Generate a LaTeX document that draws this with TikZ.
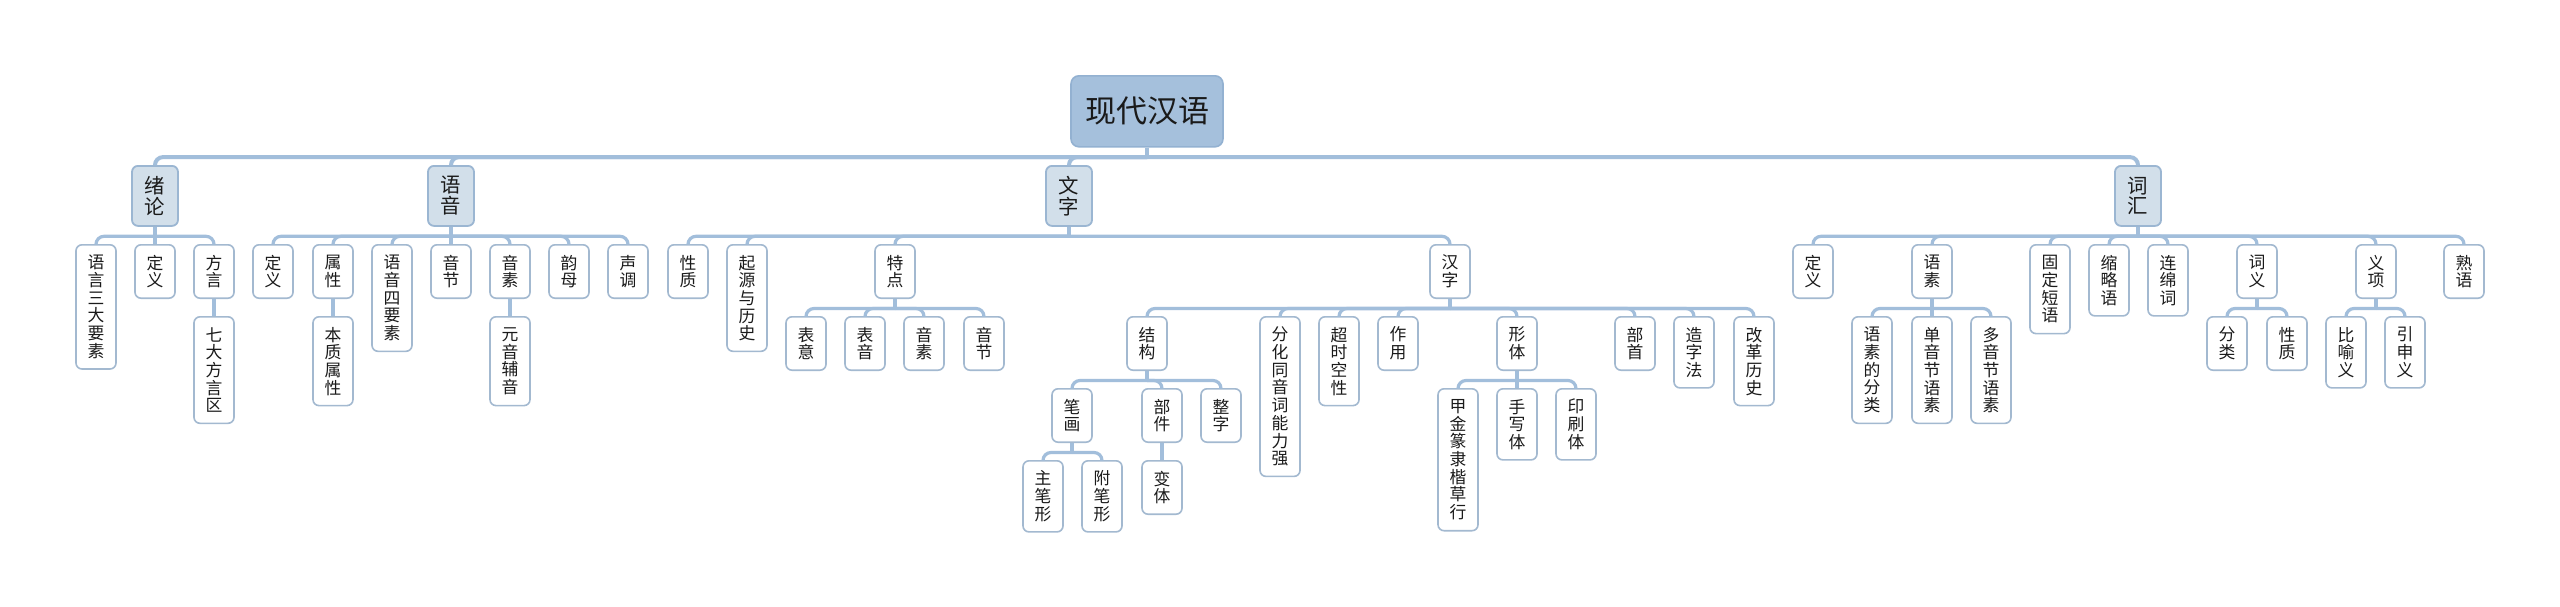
\documentclass[tikz,border=0pt]{standalone}
\usepackage{fontspec}
\setmainfont{Noto Sans CJK SC}

\definecolor{rootfill}{HTML}{A5C0DC}
\definecolor{rootline}{HTML}{93B1D1}
\definecolor{topicfill}{HTML}{D2DFEA}
\definecolor{topicline}{HTML}{9BB6D2}
\definecolor{leafline}{HTML}{A3B9D0}
\definecolor{linkcol}{HTML}{A2BEDB}
\definecolor{ink}{HTML}{1A1A1A}

\tikzset{
  rootbox/.style={draw=rootline, fill=rootfill, line width=0.8pt, rounded corners=4pt,
    minimum width=76pt, minimum height=35.5pt, inner sep=0pt, anchor=north, text=ink,
    font=\fontsize{15.5pt}{17pt}\selectfont},
  topicbox/.style={draw=topicline, fill=topicfill, line width=0.9pt, rounded corners=3pt,
    minimum width=23pt, minimum height=30pt, inner sep=0pt, align=center, anchor=north,
    text=ink, font=\fontsize{10.2pt}{10.4pt}\selectfont},
  leafbox/.style={draw=leafline, fill=white, line width=0.8pt, rounded corners=3pt,
    minimum width=20pt, minimum height={9pt+8.85pt*#1}, inner sep=0pt, align=center,
    anchor=north, text=ink, font=\fontsize{8.4pt}{8.85pt}\selectfont},
  leafbox/.default=2,
  branch/.style={draw=linkcol, line width=1.6pt, rounded corners=4pt},
  trunk/.style={branch, line width=2pt},
}

\begin{document}
\begin{tikzpicture}[x=0.5pt, y=-0.5pt]
    \fill[white] (0,0) rectangle (2560,606);
    \useasboundingbox (0,0) rectangle (2560,606);

    % Root
    \node[rootbox] (root) at (1147,75) {现代汉语};

    % Main topics
    \node[topicbox] (xulun) at (155,165) {绪\\论};
    \node[topicbox] (yuyin) at (451,165) {语\\音};
    \node[topicbox] (wenzi) at (1069,165) {文\\字};
    \node[topicbox] (cihui) at (2138,165) {词\\汇};

    % 绪论
    \node[leafbox=6] (xl1) at (96,244) {语\\言\\三\\大\\要\\素};
    \node[leafbox] (xl2) at (155,244) {定\\义};
    \node[leafbox] (xl3) at (214,244) {方\\言};
    \node[leafbox=5] (xl3a) at (214,316) {七\\大\\方\\言\\区};

    % 语音
    \node[leafbox] (yy1) at (273,244) {定\\义};
    \node[leafbox] (yy2) at (333,244) {属\\性};
    \node[leafbox=4] (yy2a) at (333,316) {本\\质\\属\\性};
    \node[leafbox=5] (yy3) at (392,244) {语\\音\\四\\要\\素};
    \node[leafbox] (yy4) at (451,244) {音\\节};
    \node[leafbox] (yy5) at (510,244) {音\\素};
    \node[leafbox=4] (yy5a) at (510,316) {元\\音\\辅\\音};
    \node[leafbox] (yy6) at (569,244) {韵\\母};
    \node[leafbox] (yy7) at (628,244) {声\\调};

    % 文字
    \node[leafbox] (wz1) at (688,244) {性\\质};
    \node[leafbox=5] (wz2) at (747,244) {起\\源\\与\\历\\史};
    \node[leafbox] (tedian) at (895,244) {特\\点};
    \node[leafbox] (td1) at (806,316) {表\\意};
    \node[leafbox] (td2) at (865,316) {表\\音};
    \node[leafbox] (td3) at (924,316) {音\\素};
    \node[leafbox] (td4) at (984,316) {音\\节};
    \node[leafbox] (hanzi) at (1450,244) {汉\\字};

    % 汉字
    \node[leafbox] (jiegou) at (1147,316) {结\\构};
    \node[leafbox=8] (hz2) at (1280,316) {分\\化\\同\\音\\词\\能\\力\\强};
    \node[leafbox=4] (hz3) at (1339,316) {超\\时\\空\\性};
    \node[leafbox] (hz4) at (1398,316) {作\\用};
    \node[leafbox] (xingti) at (1517,316) {形\\体};
    \node[leafbox] (hz6) at (1635,316) {部\\首};
    \node[leafbox=3] (hz7) at (1694,316) {造\\字\\法};
    \node[leafbox=4] (hz8) at (1754,316) {改\\革\\历\\史};

    \node[leafbox] (bihua) at (1072,388) {笔\\画};
    \node[leafbox] (bujian) at (1162,388) {部\\件};
    \node[leafbox] (jg3) at (1221,388) {整\\字};
    \node[leafbox=3] (bh1) at (1043,460) {主\\笔\\形};
    \node[leafbox=3] (bh2) at (1102,460) {附\\笔\\形};
    \node[leafbox] (bj1) at (1162,460) {变\\体};

    \node[leafbox=7] (xt1) at (1458,388) {甲\\金\\篆\\隶\\楷\\草\\行};
    \node[leafbox=3] (xt2) at (1517,388) {手\\写\\体};
    \node[leafbox=3] (xt3) at (1576,388) {印\\刷\\体};

    % 词汇
    \node[leafbox] (ch1) at (1813,244) {定\\义};
    \node[leafbox] (yusu) at (1932,244) {语\\素};
    \node[leafbox=5] (ys1) at (1872,316) {语\\素\\的\\分\\类};
    \node[leafbox=5] (ys2) at (1932,316) {单\\音\\节\\语\\素};
    \node[leafbox=5] (ys3) at (1991,316) {多\\音\\节\\语\\素};
    \node[leafbox=4] (ch3) at (2050,244) {固\\定\\短\\语};
    \node[leafbox=3] (ch4) at (2109,244) {缩\\略\\语};
    \node[leafbox=3] (ch5) at (2168,244) {连\\绵\\词};
    \node[leafbox] (ciyi) at (2257,244) {词\\义};
    \node[leafbox] (cy1) at (2227,316) {分\\类};
    \node[leafbox] (cy2) at (2287,316) {性\\质};
    \node[leafbox] (yixiang) at (2376,244) {义\\项};
    \node[leafbox=3] (yx1) at (2346,316) {比\\喻\\义};
    \node[leafbox=3] (yx2) at (2405,316) {引\\申\\义};
    \node[leafbox] (ch8) at (2464,244) {熟\\语};

    % Trunk
    \draw[trunk] (root.south) -- ++(0,9.5);
    \foreach \c in {xulun,yuyin,wenzi,cihui}
        \draw[trunk] (root.south) ++(0,9.5) -| (\c.north);

    % Branches
    \draw[branch] (xulun.south) -- (xl2.north);
    \foreach \c in {xl1,xl3}
        \draw[branch] (xulun.south) ++(0,9.5) -| (\c.north);
    \draw[branch] (xl3.south) -- (xl3a.north);

    \draw[branch] (yuyin.south) -- (yy4.north);
    \foreach \c in {yy1,yy2,yy3,yy5,yy6,yy7}
        \draw[branch] (yuyin.south) ++(0,9.5) -| (\c.north);
    \draw[branch] (yy2.south) -- (yy2a.north);
    \draw[branch] (yy5.south) -- (yy5a.north);

    \draw[branch] (wenzi.south) -- ++(0,9.5);
    \foreach \c in {wz1,wz2,tedian,hanzi}
        \draw[branch] (wenzi.south) ++(0,9.5) -| (\c.north);
    \draw[branch] (tedian.south) -- ++(0,9.5);
    \foreach \c in {td1,td2,td3,td4}
        \draw[branch] (tedian.south) ++(0,9.5) -| (\c.north);

    \draw[branch] (hanzi.south) -- ++(0,9.5);
    \foreach \c in {jiegou,hz2,hz3,hz4,xingti,hz6,hz7,hz8}
        \draw[branch] (hanzi.south) ++(0,9.5) -| (\c.north);
    \draw[branch] (jiegou.south) -- ++(0,9.5);
    \foreach \c in {bihua,bujian,jg3}
        \draw[branch] (jiegou.south) ++(0,9.5) -| (\c.north);
    \draw[branch] (bihua.south) -- ++(0,9.5);
    \foreach \c in {bh1,bh2}
        \draw[branch] (bihua.south) ++(0,9.5) -| (\c.north);
    \draw[branch] (bujian.south) -- (bj1.north);
    \draw[branch] (xingti.south) -- (xt2.north);
    \foreach \c in {xt1,xt3}
        \draw[branch] (xingti.south) ++(0,9.5) -| (\c.north);

    \draw[branch] (cihui.south) -- ++(0,9.5);
    \foreach \c in {ch1,yusu,ch3,ch4,ch5,ciyi,yixiang,ch8}
        \draw[branch] (cihui.south) ++(0,9.5) -| (\c.north);
    \draw[branch] (yusu.south) -- (ys2.north);
    \foreach \c in {ys1,ys3}
        \draw[branch] (yusu.south) ++(0,9.5) -| (\c.north);
    \draw[branch] (ciyi.south) -- ++(0,9.5);
    \foreach \c in {cy1,cy2}
        \draw[branch] (ciyi.south) ++(0,9.5) -| (\c.north);
    \draw[branch] (yixiang.south) -- ++(0,9.5);
    \foreach \c in {yx1,yx2}
        \draw[branch] (yixiang.south) ++(0,9.5) -| (\c.north);
\end{tikzpicture}
\end{document}
